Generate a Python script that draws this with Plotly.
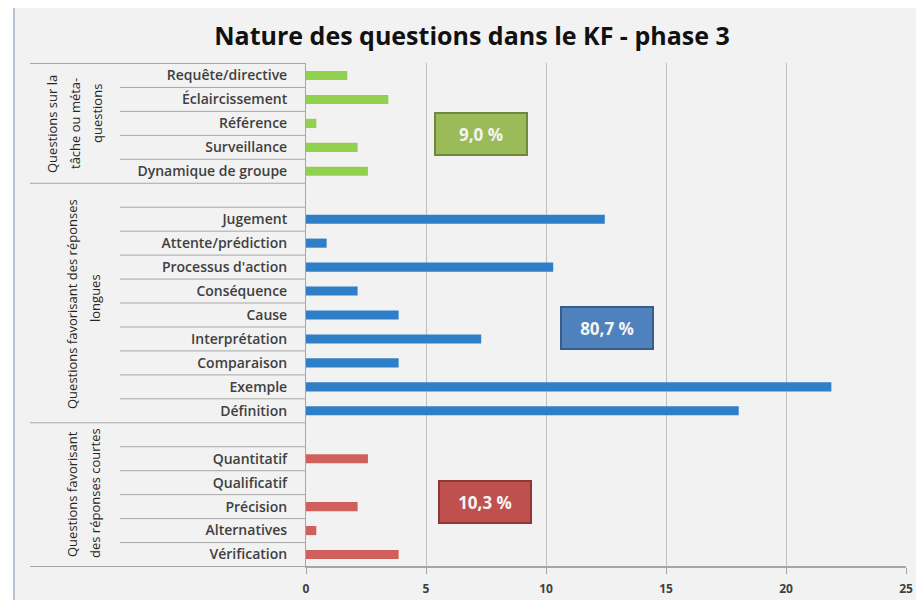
"""
Nature des questions dans le KF - phase 3
Horizontal bar chart, three groups of question types.
"""
import plotly.graph_objects as go

# --- data (percent of all questions) ---
tache_cats = ["Requête/directive", "Éclaircissement", "Référence", "Surveillance", "Dynamique de groupe"]
tache_vals = [1.72, 3.43, 0.43, 2.15, 2.58]

longues_cats = [" ", "Jugement", "Attente/prédiction", "Processus d'action", "Conséquence",
                "Cause", "Interprétation", "Comparaison", "Exemple", "Définition"]
longues_vals = [None, 12.45, 0.86, 10.30, 2.15, 3.86, 7.30, 3.86, 21.89, 18.03]

courtes_cats = ["  ", "Quantitatif", "Qualificatif", "Précision", "Alternatives", "Vérification"]
courtes_vals = [None, 2.58, 0, 2.15, 0.43, 3.86]

group_labels = [
    ["Questions sur la", "tâche ou méta-", "questions"],
    ["Questions favorisant des réponses", "longues"],
    ["Questions favorisant", "des réponses courtes"],
]
group_totals = ["9,0 %", "80,7 %", "10,3 %"]

x_ticks = [0, 5, 10, 15, 20, 25]

GREEN, BLUE, RED = "#92d050", "#2e7fc8", "#d0605c"
FONT = "Open Sans, sans-serif"

all_cats = tache_cats + longues_cats + courtes_cats
groups = [tache_cats, longues_cats, courtes_cats]

# page has an 8px body margin: keep the figure inside the 924x608 window
OFF = 8
W, H = 908, 592
L, R, T, B = 298, 10, 55, 33
pw, ph = W - L - R, H - T - B


def px_x(p):
    # page pixel -> paper x
    return (p - OFF - L) / pw


def px_y(p):
    # page pixel -> paper y
    return (H - B - (p - OFF)) / ph


fig = go.Figure()
for cats, vals, col in [(tache_cats, tache_vals, GREEN),
                        (longues_cats, longues_vals, BLUE),
                        (courtes_cats, courtes_vals, RED)]:
    fig.add_trace(go.Bar(
        y=cats, x=vals, orientation="h", width=0.38,
        marker=dict(color=col, line=dict(width=0)),
        showlegend=False, hoverinfo="x+y",
    ))

shapes = []
# outer chart frame
shapes.append(dict(type="rect", xref="paper", yref="paper",
                   x0=px_x(14), x1=px_x(940), y0=px_y(630), y1=px_y(5),
                   fillcolor="#f2f2f2", line=dict(color="#b8c4d6", width=2), layer="below"))

# row separators in the category table
n = len(all_cats)
bounds = {-0.5}
k = 0
for g in groups:
    k += len(g)
    bounds.add(k - 0.5)
for i in range(n + 1):
    yb = i - 0.5
    x0 = px_x(30) if yb in bounds else px_x(120)
    x1 = 1 if i == n else 0
    shapes.append(dict(type="line", xref="paper", yref="y", x0=x0, x1=x1, y0=yb, y1=yb,
                       line=dict(color="#a6a6a6", width=1), layer="above"))

annotations = []
# group labels (rotated, one annotation per line)
line_x = [[52, 75, 97], [72, 95], [72, 95]]
line_y = [[124, 124, 114], [304, 298], [494, 493]]
for lines, xs, ys in zip(group_labels, line_x, line_y):
    for txt, lx, ly in zip(lines, xs, ys):
        annotations.append(dict(xref="paper", yref="paper", x=px_x(lx), y=px_y(ly),
                                text=txt, textangle=-90, showarrow=False,
                                font=dict(family=FONT, size=13, color="#262626"),
                                xanchor="center", yanchor="middle"))

# percentage boxes
boxes = [((481, 134), "#9bbb59", "#71893f"),
         ((607, 328), "#4f81bd", "#385d8a"),
         ((485, 502), "#c0504d", "#8c3836")]
for txt, ((bx, by), fill, edge) in zip(group_totals, boxes):
    annotations.append(dict(xref="paper", yref="paper", x=px_x(bx), y=px_y(by),
                            text="<b>%s</b>" % txt, showarrow=False,
                            font=dict(family=FONT, size=17, color="#f4f4f4"),
                            bgcolor=fill, bordercolor=edge, borderwidth=2,
                            width=88, height=38, xanchor="center", yanchor="middle"))

fig.update_layout(
    width=W, height=H,
    margin=dict(l=L, r=R, t=T, b=B),
    paper_bgcolor="white",
    plot_bgcolor="rgba(0,0,0,0)",
    barmode="overlay",
    title=dict(text="<b>Nature des questions dans le KF - phase 3</b>",
               xref="container", x=(472 - OFF) / W, xanchor="center",
               y=1 - (36 - OFF) / H, yanchor="middle",
               font=dict(family=FONT, size=25, color="#111111")),
    font=dict(family=FONT),
    shapes=shapes,
    annotations=annotations,
    xaxis=dict(range=[0, 25], tickvals=x_ticks, showgrid=True, gridcolor="#bfbfbf",
               gridwidth=1, zeroline=False, showline=True, linecolor="#a6a6a6",
               ticks="outside", ticklen=6, tickcolor="#a6a6a6",
               tickfont=dict(family=FONT, size=12, color="#404040", weight="bold"),
               ticklabelstandoff=5, fixedrange=True, automargin=False),
    yaxis=dict(categoryorder="array", categoryarray=all_cats, autorange="reversed",
               showgrid=False, showline=True, linecolor="#a6a6a6", ticks="",
               tickfont=dict(family=FONT, size=14, color="#404040", weight=600),
               ticklabelstandoff=15, fixedrange=True, automargin=False),
)

fig.write_html("out.html")
